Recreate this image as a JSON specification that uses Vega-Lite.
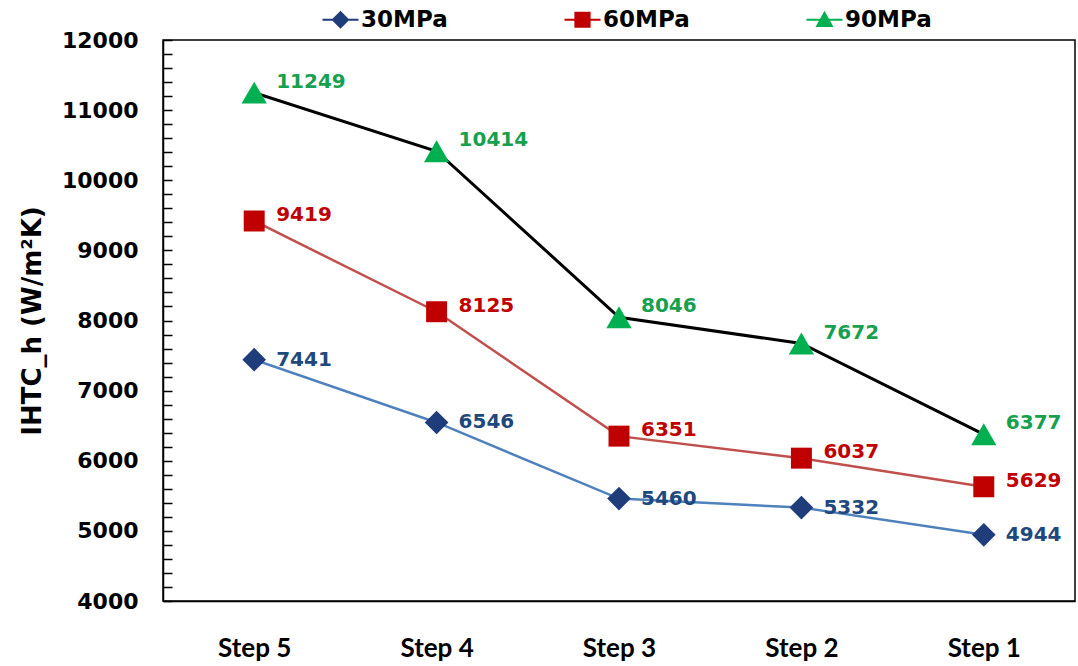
{
  "$schema": "https://vega.github.io/schema/vega-lite/v6.json",
  "width": 912,
  "height": 561,
  "autosize": {"type": "none"},
  "padding": {"left": 163, "top": 40, "right": 3, "bottom": 65},
  "background": "white",
  "config": {
    "view": {"stroke": "black", "strokeWidth": 1.5},
    "font": "DejaVu Sans"
  },
  "data": {
    "values": [
      {"step": "Step 5", "series": "30MPa", "v": 7441},
      {"step": "Step 4", "series": "30MPa", "v": 6546},
      {"step": "Step 3", "series": "30MPa", "v": 5460},
      {"step": "Step 2", "series": "30MPa", "v": 5332},
      {"step": "Step 1", "series": "30MPa", "v": 4944},
      {"step": "Step 5", "series": "60MPa", "v": 9419},
      {"step": "Step 4", "series": "60MPa", "v": 8125},
      {"step": "Step 3", "series": "60MPa", "v": 6351},
      {"step": "Step 2", "series": "60MPa", "v": 6037},
      {"step": "Step 1", "series": "60MPa", "v": 5629},
      {"step": "Step 5", "series": "90MPa", "v": 11249},
      {"step": "Step 4", "series": "90MPa", "v": 10414},
      {"step": "Step 3", "series": "90MPa", "v": 8046},
      {"step": "Step 2", "series": "90MPa", "v": 7672},
      {"step": "Step 1", "series": "90MPa", "v": 6377}
    ]
  },
  "encoding": {
    "x": {
      "field": "step", "type": "nominal",
      "sort": ["Step 5", "Step 4", "Step 3", "Step 2", "Step 1"],
      "scale": {"type": "point", "padding": 0.5},
      "axis": {
        "title": null, "labelAngle": 0, "ticks": false, "grid": false,
        "domainColor": "black", "domainWidth": 1.5,
        "labelFont": "Lato", "labelFontWeight": "bold", "labelFontSize": 26,
        "labelColor": "black", "labelPadding": 34
      }
    },
    "y": {
      "field": "v", "type": "quantitative",
      "scale": {"domain": [4000, 12000], "nice": false, "zero": false},
      "axis": {
        "title": "IHTC_h  (W/m²K)",
        "titleFont": "DejaVu Sans", "titleFontWeight": "bold", "titleFontSize": 26,
        "titleColor": "black", "titlePadding": 16,
        "values": [4000,4200,4400,4600,4800,5000,5200,5400,5600,5800,6000,6200,6400,6600,6800,7000,7200,7400,7600,7800,8000,8200,8400,8600,8800,9000,9200,9400,9600,9800,10000,10200,10400,10600,10800,11000,11200,11400,11600,11800,12000],
        "labelExpr": "datum.value % 1000 == 0 ? datum.label : ''",
        "format": "d",
        "grid": false, "ticks": true,
        "tickSize": -9, "tickColor": "black", "tickWidth": 1.5,
        "domainColor": "black", "domainWidth": 1.5,
        "labelFont": "DejaVu Sans", "labelFontWeight": "bold", "labelFontSize": 22,
        "labelColor": "black", "labelPadding": 34
      }
    }
  },
  "layer": [
    {
      "transform": [{"filter": "datum.series == '30MPa'"}],
      "mark": {"type": "line", "strokeWidth": 2.5, "stroke": "#4f81bd"}
    },
    {
      "transform": [{"filter": "datum.series == '60MPa'"}],
      "mark": {"type": "line", "strokeWidth": 2.5, "stroke": "#c0504d"}
    },
    {
      "transform": [{"filter": "datum.series == '90MPa'"}],
      "mark": {"type": "line", "strokeWidth": 3, "stroke": "#000000"}
    },
    {
      "mark": {"type": "point", "filled": true, "size": 0},
      "encoding": {
        "fill": {
          "field": "series", "type": "nominal",
          "scale": {"domain": ["30MPa", "60MPa", "90MPa"], "range": ["#1f3d7a", "#c00000", "#00b050"]},
          "legend": {
            "title": null, "orient": "none", "legendX": 159, "legendY": -39,
            "direction": "horizontal", "columnPadding": 116, "padding": 0,
            "labelFont": "DejaVu Sans", "labelFontWeight": "bold", "labelFontSize": 23,
            "labelColor": "black", "labelOffset": 2, "symbolSize": 1300,
            "symbolStrokeWidth": 0, "symbolOpacity": 1,
            "encode": {"symbols": {"update": {"opacity": {"value": 1}, "fillOpacity": {"value": 1}, "size": {"value": 1300}}}}
          }
        },
        "shape": {
          "field": "series", "type": "nominal",
          "scale": {"domain": ["30MPa", "60MPa", "90MPa"], "range": [
            "M-1,-0.06H1V0.06H-1Z M0,-0.5L0.5,0L0,0.5L-0.5,0Z",
            "M-1,-0.06H1V0.06H-1Z M-0.45,-0.45H0.45V0.45H-0.45Z",
            "M-1,-0.06H1V0.06H-1Z M0,-0.5L0.5,0.4H-0.5Z"
          ]}
        }
      }
    },
    {
      "transform": [{"filter": "datum.series == '30MPa'"}],
      "mark": {"type": "point", "shape": "diamond", "filled": true, "size": 560, "fill": "#1f3d7a", "opacity": 1}
    },
    {
      "transform": [{"filter": "datum.series == '60MPa'"}],
      "mark": {"type": "point", "shape": "square", "filled": true, "size": 440, "fill": "#c00000", "opacity": 1}
    },
    {
      "transform": [{"filter": "datum.series == '90MPa'"}],
      "mark": {"type": "point", "shape": "triangle-up", "filled": true, "size": 640, "fill": "#00b050", "opacity": 1}
    },
    {
      "transform": [{"filter": "datum.series == '30MPa'"}],
      "mark": {"type": "text", "align": "left", "baseline": "middle", "dx": 22, "dy": 0, "font": "DejaVu Sans", "fontWeight": "bold", "fontSize": 20, "fill": "#1f497d"},
      "encoding": {"text": {"field": "v", "type": "quantitative", "format": "d"}}
    },
    {
      "transform": [{"filter": "datum.series == '60MPa'"}],
      "mark": {"type": "text", "align": "left", "baseline": "middle", "dx": 22, "dy": -6, "font": "DejaVu Sans", "fontWeight": "bold", "fontSize": 20, "fill": "#c00000"},
      "encoding": {"text": {"field": "v", "type": "quantitative", "format": "d"}}
    },
    {
      "transform": [{"filter": "datum.series == '90MPa'"}],
      "mark": {"type": "text", "align": "left", "baseline": "middle", "dx": 22, "dy": -11, "font": "DejaVu Sans", "fontWeight": "bold", "fontSize": 20, "fill": "#17a04f"},
      "encoding": {"text": {"field": "v", "type": "quantitative", "format": "d"}}
    }
  ]
}
